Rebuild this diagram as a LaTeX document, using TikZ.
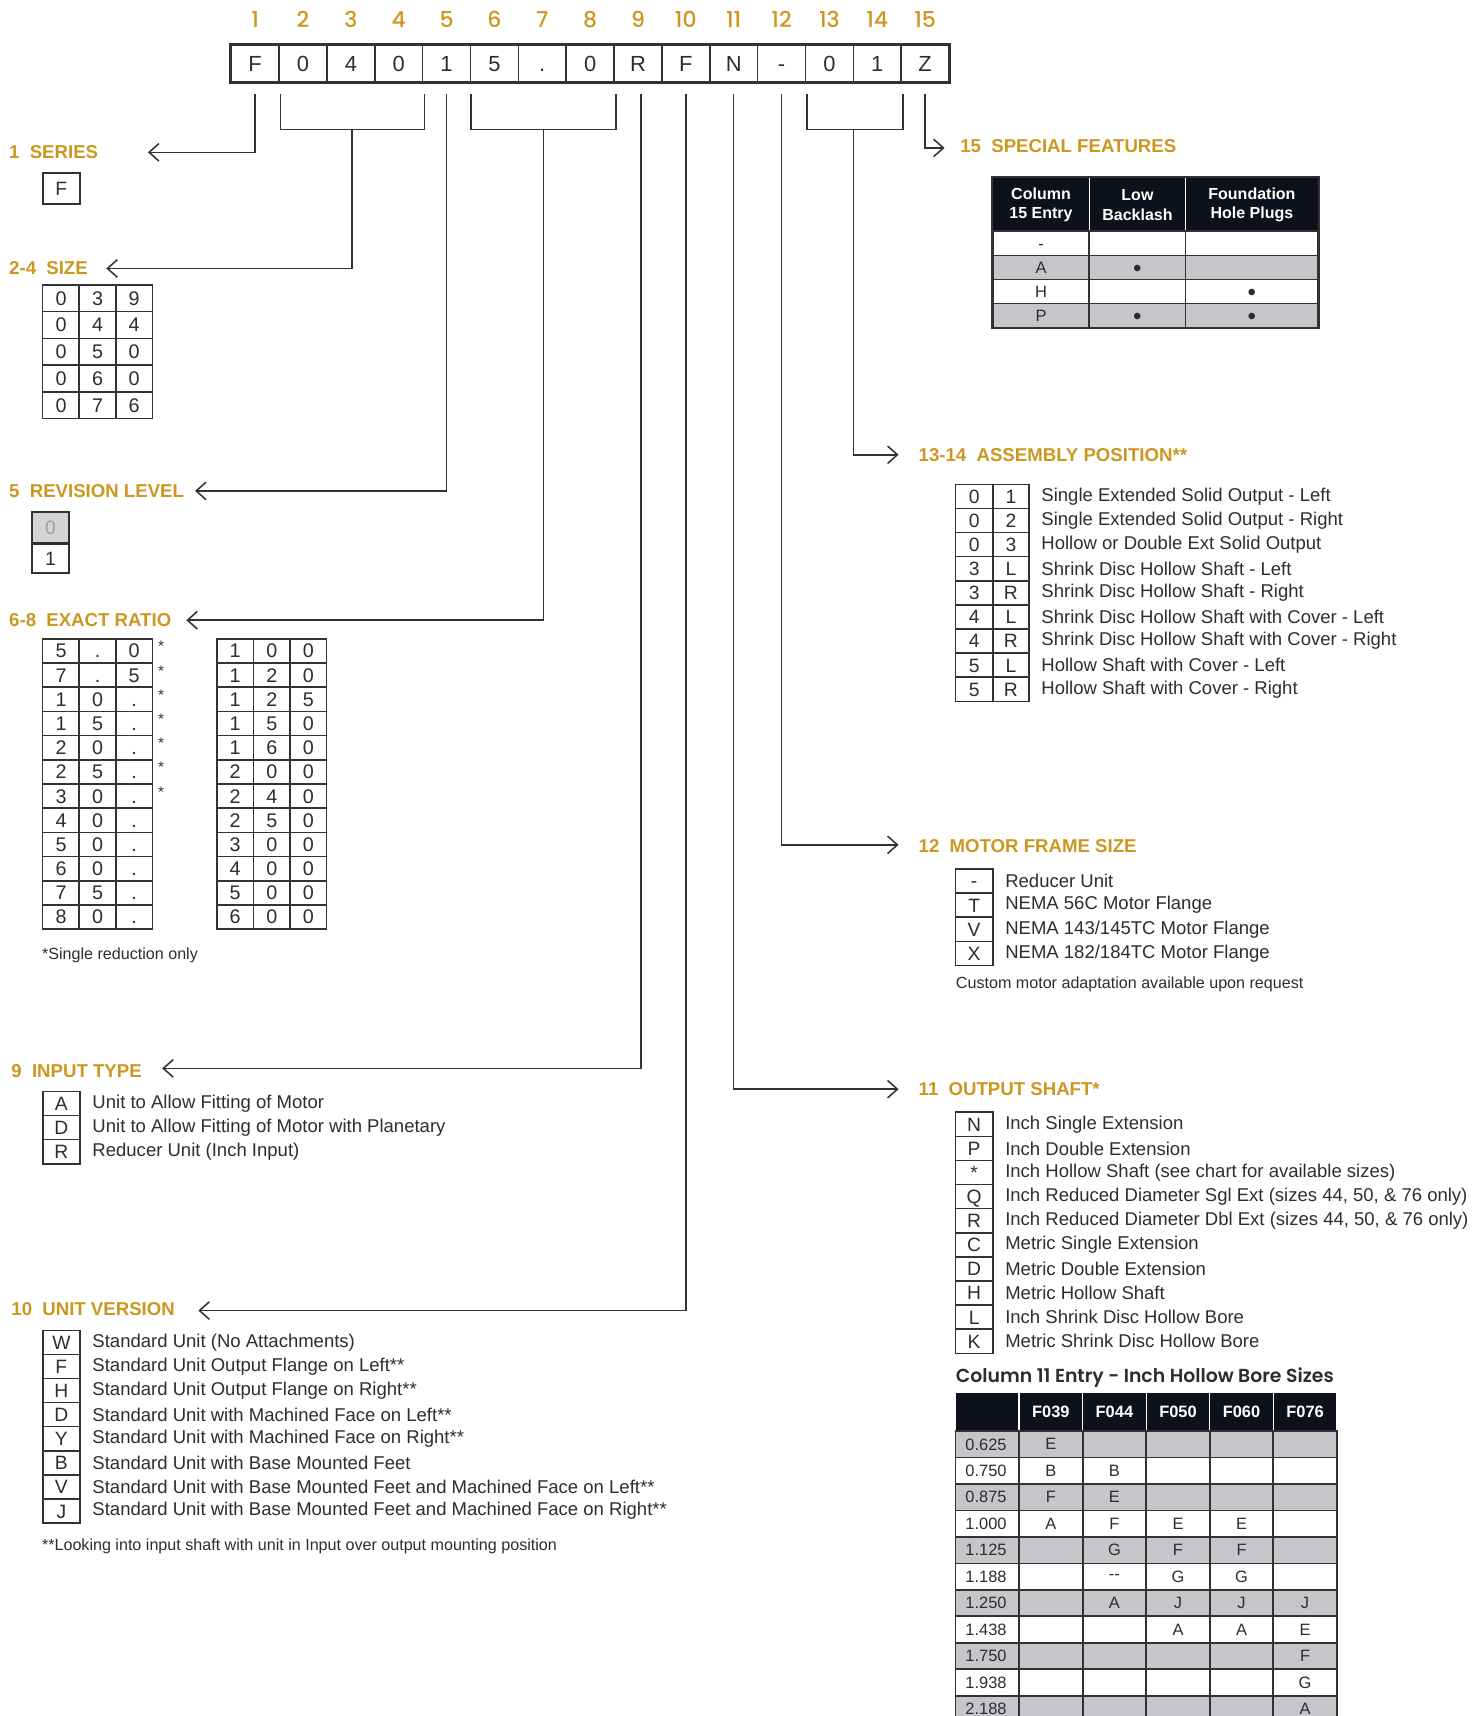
\documentclass[tikz,border=0pt]{standalone}
\usepackage{fontspec}
\setmainfont{Liberation Sans}
\newfontfamily\numfont{Poppins}[UprightFont={* Medium}, BoldFont={* SemiBold}]
\usepackage{tikz}
\usetikzlibrary{arrows.meta}

\definecolor{gold}{RGB}{204,151,32}
\definecolor{ink}{RGB}{45,45,45}
\definecolor{rule}{RGB}{50,50,50}
\definecolor{navy}{RGB}{14,17,27}
\definecolor{rowg}{RGB}{199,197,202}
\definecolor{revg}{RGB}{212,212,212}

\newcommand{\fs}[1]{\fontsize{#1}{#1}\selectfont}
\newcommand{\dotm}{\raisebox{-1.4pt}{\fontsize{11}{11}\selectfont\textbullet}}

\begin{document}
\begin{tikzpicture}[x=0.5pt, y=-0.5pt]
        \tikzstyle{every node} = [text=ink, inner sep=0pt]
        \tikzstyle{hnum}  = [font=\numfont\fs{10}, text=gold]
        \tikzstyle{hcell} = [draw=rule, line width=0.7pt, minimum width=21.83pt, minimum height=17pt, text height=7.2pt, text depth=0pt, font=\fs{10}]
        \tikzstyle{ttl}   = [anchor=west, font=\bfseries\fs{8.5}, text=gold]
        \tikzstyle{leadln} = [draw=rule, line width=0.7pt]
        \tikzstyle{arrw}  = [-{Straight Barb[length=4.5pt, width=8pt]}]
        \tikzstyle{codebox} = [draw=rule, line width=0.7pt, minimum width=17pt, minimum height=11pt, text height=6.3pt, text depth=0pt, font=\fs{8.8}]
        \tikzstyle{desctxt} = [anchor=west, font=\fs{8.45}]
        \tikzstyle{notetxt} = [anchor=west, font=\fs{7.35}]
        \tikzstyle{sfh}   = [fill=navy, draw=white, line width=0.5pt, text=white, font=\bfseries\fontsize{7.3}{9}\selectfont, align=center, minimum height=25pt]
        \tikzstyle{sfc}   = [draw=rule, line width=0.7pt, minimum height=11pt, text height=5.4pt, text depth=0pt, font=\fs{7.5}]
        \tikzstyle{bhead} = [fill=navy, draw=white, line width=0.6pt, text=white, font=\bfseries\fs{7.5}, minimum width=29pt, minimum height=17.5pt]
        \tikzstyle{bcell} = [draw=rule, line width=0.8pt, font=\fs{7.5}, minimum width=29pt, minimum height=12.07pt]

        \def\colL{56}
        \def\txtL{84}
        \def\colR{889}
        \def\txtR{917}

        \useasboundingbox (0,0) rectangle (1350,1566);

        \foreach[count=\c] \ch in {F,0,4,0,1,5,.,0,R,F,N,-,0,1,Z} {
            \node[hcell] (c\c) at ({211+43.67*(\c-0.5)},58) {\ch};
            \node[hnum] (n\c) at ({211+43.67*(\c-0.5)},18) {\c};
        }
        \draw[rule, line width=1.3pt] (c1.north west) rectangle (c15.south east);

        \node[ttl] (hser) at (8,139) {1\hspace{0.55em}SERIES};
        \node[ttl] (hsize) at (8,245) {2-4\hspace{0.55em}SIZE};
        \node[ttl] (hrev) at (8,448) {5\hspace{0.55em}REVISION LEVEL};
        \node[ttl] (hrat) at (8,566) {6-8\hspace{0.55em}EXACT RATIO};
        \node[ttl] (hinp) at (10,977) {9\hspace{0.55em}INPUT TYPE};
        \node[ttl] (hver) at (10,1195) {10\hspace{0.55em}UNIT VERSION};
        \node[ttl] (hspc) at (876,133) {15\hspace{0.55em}SPECIAL FEATURES};
        \node[ttl] (hasm) at (838,415) {13-14\hspace{0.55em}ASSEMBLY POSITION**};
        \node[ttl] (hmot) at (838,772) {12\hspace{0.55em}MOTOR FRAME SIZE};
        \node[ttl] (hout) at (838,994) {11\hspace{0.55em}OUTPUT SHAFT*};

        \coordinate (tser) at (135,139);
        \coordinate (tsize) at (97,245);
        \coordinate (trev) at (178,448);
        \coordinate (trat) at (170,566);
        \coordinate (tinp) at (148,975);
        \coordinate (tver) at (181,1196);
        \coordinate (tspc) at (862,135);
        \coordinate (tasm) at (820,415);
        \coordinate (tmot) at (820,771);
        \coordinate (tout) at (820,994);
        \coordinate (m24) at (321,118);
        \coordinate (m68) at (496,118);
        \coordinate (m1314) at (779,118);

        \draw[leadln] ([shift={(2,10)}]c2.south west) |- (m24) -| ([shift={(1,10)}]c4.south east);
        \draw[leadln] ([shift={(1,10)}]c6.south west) |- (m68) -| ([shift={(1,10)}]c8.south east);
        \draw[leadln] ([shift={(2,10)}]c13.south west) |- (m1314) -| ([shift={(1,10)}]c14.south east);

        \draw[leadln, arrw, shorten <=5pt] (c1.south) |- (tser);
        \draw[leadln, arrw] (m24) |- (tsize);
        \draw[leadln, arrw, shorten <=5pt] (c5.south) |- (trev);
        \draw[leadln, arrw] (m68) |- (trat);
        \draw[leadln, arrw, shorten <=5pt] ([xshift=1.5pt]c9.south) |- (tinp);
        \draw[leadln, arrw, shorten <=5pt] (c10.south) |- (tver);
        \draw[leadln, arrw, shorten <=5pt] (c11.south) |- (tout);
        \draw[leadln, arrw, shorten <=5pt] (c12.south) |- (tmot);
        \draw[leadln, arrw] (m1314) |- (tasm);
        \draw[leadln, arrw, shorten <=5pt] (c15.south) |- (tspc);

        \node[codebox, minimum height=14pt] (sr1) at (\colL,172) {F};

        \foreach[count=\r] \ua/\ub/\uc in {0/3/9,0/4/4,0/5/0,0/6/0,0/7/6}
            \foreach[count=\k] \v in {\ua,\ub,\uc}
                \node[codebox, minimum width=16.67pt, minimum height=12.2pt, font=\fs{9}] (sz\r-\k) at ({39+33.33*(\k-0.5)},{260+24.4*(\r-0.5)}) {\v};

        \node[codebox, fill=revg, text=gray!75, line width=1pt, minimum height=14.5pt] (rv0) at (46,481.5) {0};
        \node[codebox, line width=1pt, minimum height=13.5pt] (rv1) at (46,509.5) {1};

        \foreach[count=\r] \ua/\ub/\uc in {5/./0,7/./5,1/0/.,1/5/.,2/0/.,2/5/.,3/0/.,4/0/.,5/0/.,6/0/.,7/5/.,8/0/.}
            \foreach[count=\k] \v in {\ua,\ub,\uc}
                \node[codebox, minimum width=16.67pt, font=\fs{9}] (ra\r-\k) at ({39+33.33*(\k-0.5)},{583+22.08*(\r-0.5)}) {\v};
        \foreach[count=\r] \ua/\ub/\uc in {1/0/0,1/2/0,1/2/5,1/5/0,1/6/0,2/0/0,2/4/0,2/5/0,3/0/0,4/0/0,5/0/0,6/0/0}
            \foreach[count=\k] \v in {\ua,\ub,\uc}
                \node[codebox, minimum width=16.67pt, font=\fs{9}] (rb\r-\k) at ({198+33.33*(\k-0.5)},{583+22.08*(\r-0.5)}) {\v};
        \foreach \r in {1,...,7}
            \node[font=\fs{7}] (st\r) at (147,{583+22.08*(\r-0.5)-4}) {*};
        \node[notetxt] (nrat) at (38,872) {*Single reduction only};

        \foreach[count=\r] \k/\t in {A/Unit to Allow Fitting of Motor,
                D/Unit to Allow Fitting of Motor with Planetary,
                R/Reducer Unit (Inch Input)} {
            \node[codebox] (ik\r) at (\colL,{985+22*\r}) {\k};
            \node[desctxt] (it\r) at (\txtL,{985+22*\r}) {\t};
        }

        \foreach[count=\r] \k/\t in {W/Standard Unit (No Attachments),
                F/Standard Unit Output Flange on Left**,
                H/Standard Unit Output Flange on Right**,
                D/Standard Unit with Machined Face on Left**,
                Y/Standard Unit with Machined Face on Right**,
                B/Standard Unit with Base Mounted Feet,
                V/Standard Unit with Base Mounted Feet and Machined Face on Left**,
                J/Standard Unit with Base Mounted Feet and Machined Face on Right**} {
            \node[codebox] (vk\r) at (\colL,{1203+22*\r}) {\k};
            \node[desctxt] (vt\r) at (\txtL,{1203+22*\r}) {\t};
        }
        \node[notetxt] (nver) at (38,1411) {**Looking into input shaft with unit in Input over output mounting position};

        \node[sfh, minimum width=44pt] (sfh1) at (950,187) {Column\\15 Entry};
        \node[sfh, minimum width=44pt] (sfh2) at (1038,187) {Low\\Backlash};
        \node[sfh, minimum width=60.5pt] (sfh3) at (1142.5,187) {Foundation\\Hole Plugs};
        \foreach[count=\r] \e/\l/\h/\fl in {-/{}/{}/white, A/\dotm/{}/rowg, H/{}/\dotm/white, P/\dotm/\dotm/rowg} {
            \node[sfc, fill=\fl, minimum width=44pt] (sf\r-1) at (950,{200+22*\r}) {\e};
            \node[sfc, fill=\fl, minimum width=44pt] (sf\r-2) at (1038,{200+22*\r}) {\l};
            \node[sfc, fill=\fl, minimum width=60.5pt] (sf\r-3) at (1142.5,{200+22*\r}) {\h};
        }
        \draw[rule, line width=0.9pt] (sfh1.north west) rectangle (sf4-3.south east);

        \foreach[count=\r] \ka/\kb/\t in {0/1/Single Extended Solid Output - Left,
                0/2/Single Extended Solid Output - Right,
                0/3/Hollow or Double Ext Solid Output,
                3/L/Shrink Disc Hollow Shaft - Left,
                3/R/Shrink Disc Hollow Shaft - Right,
                4/L/Shrink Disc Hollow Shaft with Cover - Left,
                4/R/Shrink Disc Hollow Shaft with Cover - Right,
                5/L/Hollow Shaft with Cover - Left,
                5/R/Hollow Shaft with Cover - Right} {
            \node[codebox] (aa\r) at (\colR,{431+22*\r}) {\ka};
            \node[codebox, minimum width=16.5pt] (ab\r) at (922.5,{431+22*\r}) {\kb};
            \node[desctxt] (at\r) at (950,{431+22*\r}) {\t};
        }

        \foreach[count=\r] \k/\t in {-/Reducer Unit,
                T/NEMA 56C Motor Flange,
                V/{NEMA 143/145TC Motor Flange},
                X/{NEMA 182/184TC Motor Flange}} {
            \node[codebox] (mk\r) at (\colR,{782+22*\r}) {\k};
            \node[desctxt] (mt\r) at (\txtR,{782+22*\r}) {\t};
        }
        \node[notetxt] (nmot) at (872,898) {Custom motor adaptation available upon request};

        \foreach[count=\r] \k/\t in {N/Inch Single Extension,
                P/Inch Double Extension,
                */Inch Hollow Shaft (see chart for available sizes),
                Q/{Inch Reduced Diameter Sgl Ext (sizes 44, 50, \& 76 only)},
                R/{Inch Reduced Diameter Dbl Ext (sizes 44, 50, \& 76 only)},
                C/Metric Single Extension,
                D/Metric Double Extension,
                H/Metric Hollow Shaft,
                L/Inch Shrink Disc Hollow Bore,
                K/Metric Shrink Disc Hollow Bore} {
            \node[codebox] (ok\r) at (\colR,{1004+22*\r}) {\k};
            \node[desctxt] (ot\r) at (\txtR,{1004+22*\r}) {\t};
        }

        \node[anchor=west, font=\numfont\bfseries\fs{8.6}] (tbore) at (872,1257) {Column 11 Entry - Inch Hollow Bore Sizes};
        \node[bhead] (bh0) at (901,1288.5) {};
        \foreach[count=\k] \t in {F039,F044,F050,F060,F076}
            \node[bhead] (bh\k) at ({901+58*\k},1288.5) {\t};
        \foreach[count=\r] \sz/\va/\vb/\vc/\vd/\ve/\fl in {0.625/E/{}/{}/{}/{}/rowg,
                0.750/B/B/{}/{}/{}/white,
                0.875/F/E/{}/{}/{}/rowg,
                1.000/A/F/E/E/{}/white,
                1.125/{}/G/F/F/{}/rowg,
                1.188/{}/{-{}-}/G/G/{}/white,
                1.250/{}/A/J/J/J/rowg,
                1.438/{}/{}/A/A/E/white,
                1.750/{}/{}/{}/{}/F/rowg,
                1.938/{}/{}/{}/{}/G/white,
                2.188/{}/{}/{}/{}/A/rowg} {
            \node[bcell, fill=\fl, text width=20pt, inner xsep=4.5pt, align=left] (bs\r) at (901,{1306+24.15*(\r-0.5)}) {\sz};
            \foreach[count=\k] \v in {\va,\vb,\vc,\vd,\ve}
                \node[bcell, fill=\fl] (bv\r-\k) at ({901+58*\k},{1306+24.15*(\r-0.5)}) {\v};
        }
    \end{tikzpicture}
\end{document}
